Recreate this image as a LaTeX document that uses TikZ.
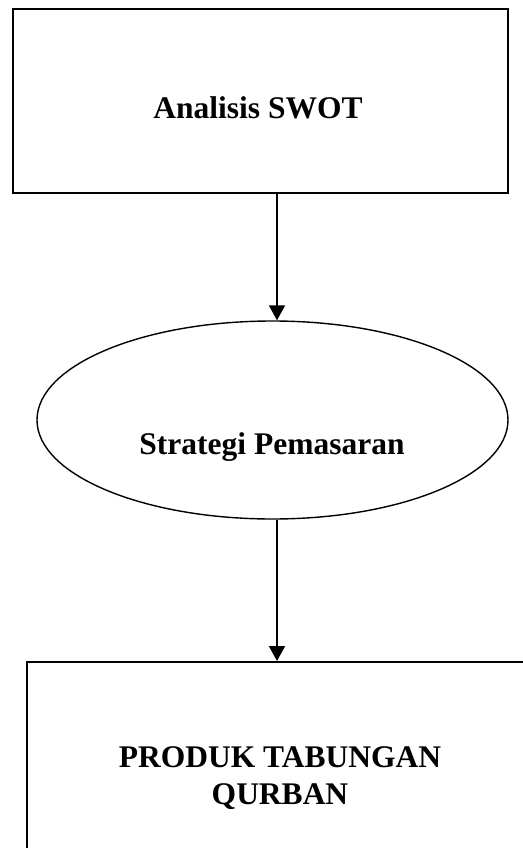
\documentclass[tikz,border=0pt]{standalone}
\usepackage{fontspec}
\setmainfont{Liberation Serif}
\usetikzlibrary{shapes.geometric,arrows.meta}
\begin{document}
\begin{tikzpicture}[x=1pt,y=-1pt,
  txt/.style={font=\fontsize{31.5}{37}\selectfont\bfseries, align=center, inner sep=0pt},
  boxA/.style={draw, line width=2pt, rectangle, inner sep=0pt},
  ell/.style={draw, line width=1.4pt, ellipse, inner sep=0pt},
  arr/.style={line width=2pt, -{Triangle[length=15pt,width=16pt]}}]
\useasboundingbox (0,0) rectangle (522,848);
\node[boxA, minimum width=495pt, minimum height=184pt] (swot) at (260.5,101) {};
\node[txt] (swotT) at (258,108) {Analisis SWOT};
\node[ell, minimum width=471pt, minimum height=198pt] (strat) at (272.5,420) {};
\node[txt] (stratT) at (272,447) {Strategi Pemasaran};
\node[boxA, minimum width=506pt, minimum height=232pt] (prod) at (280,778) {};
\node[txt] (prodT) at (280,778) {PRODUK TABUNGAN\\QURBAN};
\coordinate (ax) at (277,0);
\draw[arr] (swot.south -| ax) -- (strat.north -| ax);
\draw[arr] (strat.south -| ax) -- (prod.north -| ax);
\end{tikzpicture}
\end{document}
